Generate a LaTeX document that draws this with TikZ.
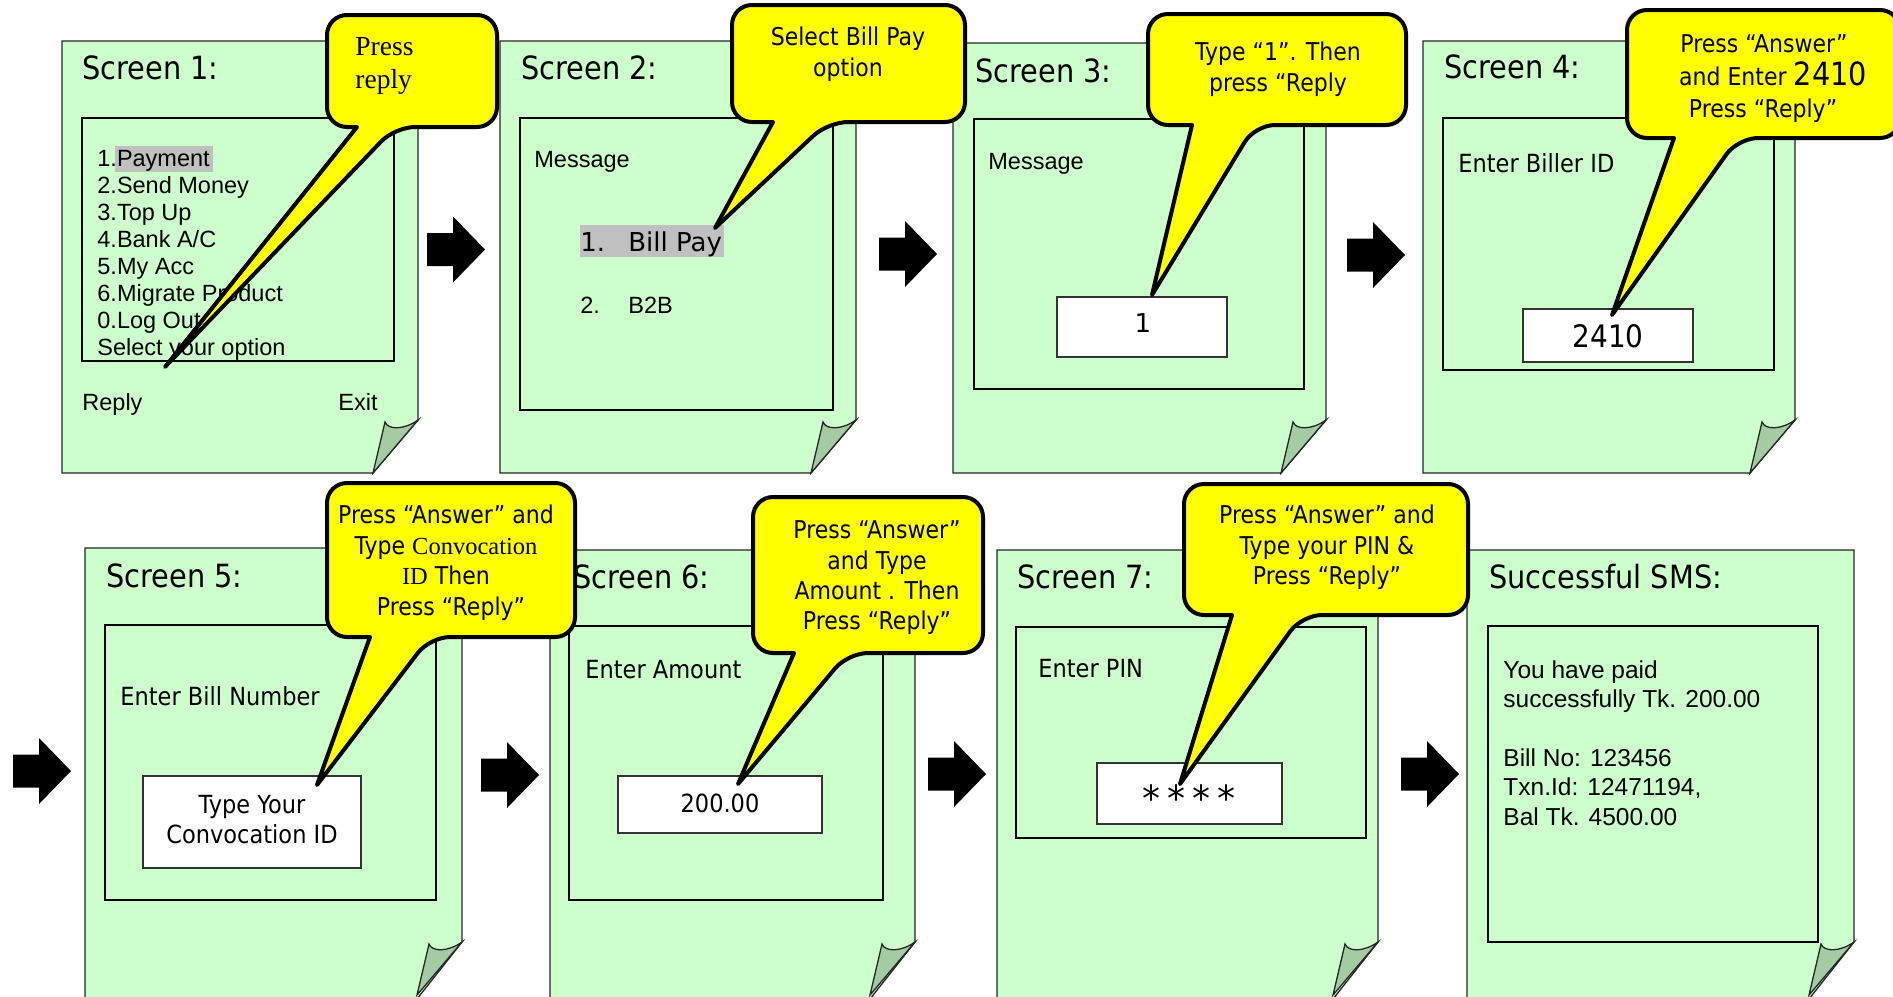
\documentclass[tikz,border=0pt]{standalone}
\usepackage{fontspec}
\setmainfont{Liberation Sans}
\newfontfamily\dvs{DejaVu Sans}
\newfontfamily\dvc{DejaVu Sans}[FakeStretch=0.9]
\newfontfamily\tms{Liberation Serif}
\definecolor{pagegreen}{HTML}{CCFFCC}
\definecolor{flapgreen}{HTML}{A3CCA3}
\definecolor{hlgray}{HTML}{C0C0C0}
\definecolor{callyellow}{HTML}{FFFF00}
\tikzset{
  page/.style={fill=pagegreen, draw=black!85, line width=0.65pt},
  flap/.style={fill=flapgreen, draw=black!85, line width=0.65pt},
  screenbox/.style={draw=black, line width=1pt},
  inputbox/.style={draw=black!80, fill=white, line width=0.8pt},
  callout/.style={fill=callyellow, draw=black, line width=2pt, line join=round},
  hl/.style={fill=hlgray},
  lbl/.style={anchor=base west, inner sep=0pt, text=black},
  ctr/.style={anchor=base, inner sep=0pt, text=black},
  title/.style={lbl, font=\dvc\fontsize{16}{19}\selectfont},
  arial/.style={lbl, font=\fontsize{11.75}{14}\selectfont},
  entry/.style={lbl, font=\dvc\fontsize{12.5}{15}\selectfont},
  calltxt/.style={ctr, font=\dvc\fontsize{12.25}{15}\selectfont},
  sms/.style={lbl, font=\fontsize{12.25}{15}\selectfont},
}
% page: L T R Yfold Bottom
\newcommand\phonepage[5]{%
  \draw[page] (#1,#2) -- (#3,#2) -- (#3,#4) -- ({#3-45},#5) -- (#1,#5) -- cycle;
  \draw[flap] (#3,#4) -- ({#3-45},{#4+53}) -- ({#3-33},{#4+2})
     .. controls ({#3-30},{#4+10}) and ({#3-14},{#4+10}) .. (#3,#4) -- cycle;}
% callout: L T R B p1 p2 tipx tipy
\newcommand\callbox[8]{%
  \draw[callout] ({(#1+#3)/2},#2) [rounded corners=10pt] -- (#3,#2) -- (#3,#4) -- (#6,#4)
     [sharp corners] -- (#7,#8) -- (#5,#4) [rounded corners=10pt] -- (#1,#4) -- (#1,#2) -- cycle;}
% block arrow: x0 ycenter
\newcommand\blockarr[2]{%
  \fill[black] (#1,{#2-16.5}) -- ({#1+26},{#2-16.5}) -- ({#1+26},{#2-33}) -- ({#1+58},#2)
     -- ({#1+26},{#2+33}) -- ({#1+26},{#2+16.5}) -- (#1,{#2+16.5}) -- cycle;}
\begin{document}
\begin{tikzpicture}[x=0.5pt,y=-0.5pt]
\useasboundingbox (0,0) rectangle (1893,996);
\clip (0,0) rectangle (1893,996);
\fill[white] (0,0) rectangle (1893,996);

% ---------- pages ----------
\phonepage{62}{41}{418}{420}{473}
\phonepage{500}{41}{856}{420}{473}
\phonepage{953}{43}{1326}{420}{473}
\phonepage{1423}{41}{1795}{420}{473}
\phonepage{85}{548}{462}{942}{999}
\phonepage{550}{550}{915}{942}{999}
\phonepage{997}{550}{1378}{942}{999}
\phonepage{1467}{550}{1854}{942}{999}

% ---------- inner screens ----------
\draw[screenbox] (82,118) rectangle (394,361);
\draw[screenbox] (520,118) rectangle (833,410);
\draw[screenbox] (974,119) rectangle (1304,389);
\draw[screenbox] (1443,118) rectangle (1774,370);
\draw[screenbox] (105,625) rectangle (436,900);
\draw[screenbox] (569,626) rectangle (883,900);
\draw[screenbox] (1016,627) rectangle (1366,838);
\draw[screenbox] (1488,626) rectangle (1818,942);

% ---------- input boxes ----------
\draw[inputbox] (1057,297) rectangle (1227,357);
\draw[inputbox] (1523,309) rectangle (1693,362);
\draw[inputbox] (143,776) rectangle (361,868);
\draw[inputbox] (618,776) rectangle (822,833);
\draw[inputbox] (1097,763) rectangle (1282,824);

% ---------- highlights ----------
\fill[hl] (115,146) rectangle (213,172);
\fill[hl] (580,225) rectangle (724,257);

% ---------- titles ----------
\node[title] (t1) at (82,79) {Screen 1:};
\node[title] (t2) at (521,79) {Screen 2:};
\node[title] (t3) at (975,82) {Screen 3:};
\node[title] (t4) at (1444,78) {Screen 4:};
\node[title] (t5) at (106,587) {Screen 5:};
\node[title] (t6) at (573,588) {Screen 6:};
\node[title] (t7) at (1017,588) {Screen 7:};
\node[title] (t8) at (1489,588) {Successful SMS:};

% ---------- screen 1 ----------
\node[arial] (m1) at (97,166) {1.Payment};
\node[arial] (m2) at (97,193) {2.Send Money};
\node[arial] (m3) at (97,220) {3.Top Up};
\node[arial] (m4) at (97,247) {4.Bank A/C};
\node[arial] (m5) at (97,274) {5.My Acc};
\node[arial] (m6) at (97,301) {6.Migrate Product};
\node[arial] (m7) at (97,328) {0.Log Out};
\node[arial] (m8) at (97,355) {Select your option};
\node[arial] (reply) at (82,410) {Reply};
\node[arial] (exit) at (338,410) {Exit};

% ---------- screen 2 ----------
\node[arial] (msg2) at (534,167) {Message};
\node[lbl, font=\dvs\fontsize{13}{15}\selectfont] (o1n) at (580,251) {1.};
\node[lbl, font=\dvs\fontsize{13}{15}\selectfont] (o1) at (628,251) {Bill Pay};
\node[arial] (o2n) at (580,313) {2.};
\node[arial] (o2) at (628,313) {B2B};

% ---------- screen 3 ----------
\node[arial] (msg3) at (988,169) {Message};
\node[ctr, font=\dvs\fontsize{13}{15}\selectfont] (in3) at (1143,332) {1};

% ---------- screen 4 ----------
\node[entry] (e4) at (1458,172) {Enter Biller ID};
\node[ctr, font=\dvc\fontsize{15.5}{18}\selectfont] (in4) at (1608,347) {2410};

% ---------- screen 5 ----------
\node[entry] (e5) at (120,705) {Enter Bill Number};
\node[ctr, font=\dvc\fontsize{12.5}{15}\selectfont] (in5a) at (252,813) {Type Your};
\node[ctr, font=\dvc\fontsize{12.5}{15}\selectfont] (in5b) at (252,843) {Convocation ID};

% ---------- screen 6 ----------
\node[entry] (e6) at (585,678) {Enter Amount};
\node[ctr, font=\dvc\fontsize{12.5}{15}\selectfont] (in6) at (720,812) {200.00};

% ---------- screen 7 ----------
\node[entry] (e7) at (1038,677) {Enter PIN};
\node[ctr, font=\dvs\fontsize{18}{20}\selectfont] (in7) at (1189,811) {*\hspace{3.5pt}*\hspace{3.5pt}*\hspace{3.5pt}*};

% ---------- successful SMS ----------
\node[sms] (s1) at (1503,678) {You have paid};
\node[sms] (s2) at (1503,707) {successfully Tk. 200.00};
\node[sms] (s3) at (1503,766) {Bill No: 123456};
\node[sms] (s4) at (1503,795) {Txn.Id: 12471194,};
\node[sms] (s5) at (1503,825) {Bal Tk. 4500.00};

% ---------- block arrows ----------
\blockarr{427}{249.5}
\blockarr{879}{254}
\blockarr{1347}{255}
\blockarr{13}{771}
\blockarr{481}{775}
\blockarr{928}{774}
\blockarr{1401}{774}

% ---------- callouts ----------
\callbox{327}{15}{497}{127}{357}{395}{165}{367}
\callbox{732}{5}{965}{122}{773}{828}{715}{228}
\callbox{1148}{14}{1406}{125}{1192}{1255}{1152}{295}
\callbox{1627}{10}{1900}{138}{1674}{1738}{1612}{315}
\callbox{327}{483}{575}{637}{370}{430}{317}{785}
\callbox{753}{497}{983}{653}{794}{848}{738}{784}
\callbox{1184}{484}{1468}{615}{1232}{1302}{1180}{784}

% ---------- callout texts ----------
\node[lbl, font=\tms\fontsize{13.75}{16}\selectfont] (c1a) at (355,55) {Press};
\node[lbl, font=\tms\fontsize{13.75}{16}\selectfont] (c1b) at (355,88) {reply};

\node[calltxt] (c2a) at (848,45) {Select Bill Pay};
\node[calltxt] (c2b) at (848,76) {option};

\node[calltxt] (c3a) at (1278,60) {Type “1”. Then};
\node[calltxt] (c3b) at (1278,91) {press “Reply};

\node[calltxt] (c4a) at (1764,52) {Press “Answer”};
\node[calltxt] (c4b) at (1773,85) {and Enter {\fontsize{16}{18}\selectfont 2410}};
\node[calltxt] (c4c) at (1763,117) {Press “Reply”};

\node[calltxt] (c5a) at (446,523) {Press “Answer” and};
\node[calltxt] (c5b) at (446,554) {Type {\tms Convocation}};
\node[calltxt] (c5c) at (446,584) {{\tms ID} Then};
\node[calltxt] (c5d) at (451,615) {Press “Reply”};

\node[calltxt] (c6a) at (877,538) {Press “Answer”};
\node[calltxt] (c6b) at (877,569) {and Type};
\node[calltxt] (c6c) at (877,599) {Amount . Then};
\node[calltxt] (c6d) at (877,629) {Press “Reply”};

\node[calltxt] (c7a) at (1327,523) {Press “Answer” and};
\node[calltxt] (c7b) at (1327,554) {Type your PIN \&};
\node[calltxt] (c7c) at (1327,584) {Press “Reply”};
\end{tikzpicture}
\end{document}
